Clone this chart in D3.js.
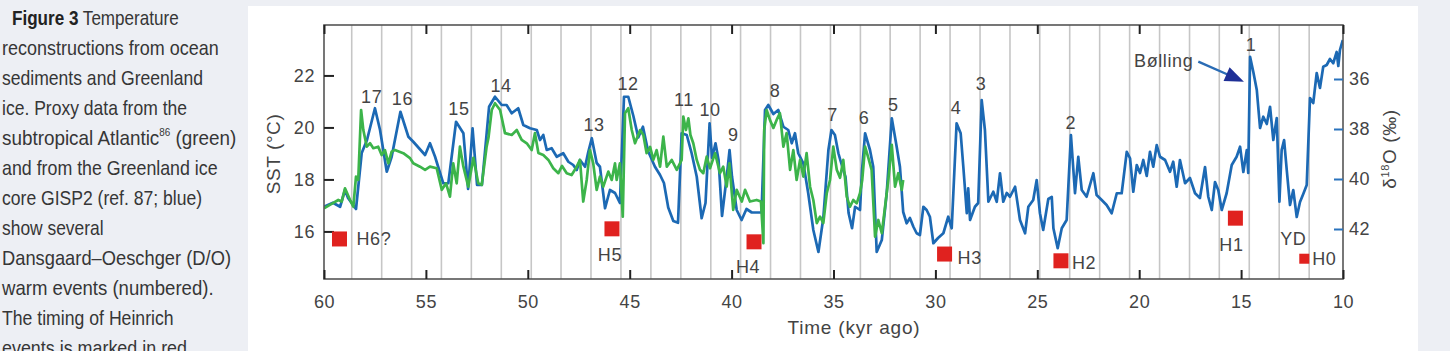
<!DOCTYPE html>
<html><head><meta charset="utf-8">
<script src="https://cdn.jsdelivr.net/npm/d3@7"></script>
<style>
html,body{margin:0;padding:0;background:#edeff4;}
svg{display:block;}
</style></head><body>
<svg id="chart" width="1450" height="351"></svg>
<script>
// ---------------- DATA ----------------
const xTicks = [60,55,50,45,40,35,30,25,20,15,10];
const sstTicks = [16,18,20,22];
const d18OTicks = [36,38,40,42];

// GISP2 delta18O (blue, right axis) [kyr ago, value]
const gispSeries = [[60.00,41.11],[59.56,40.95],[59.21,41.11],[58.97,40.44],[58.82,40.76],[58.43,41.20],[58.15,38.96],[57.89,38.44],[57.50,37.17],[57.25,38.04],[56.92,39.71],[56.68,39.11],[56.25,37.31],[55.86,38.31],[55.62,38.51],[55.04,39.04],[54.80,38.57],[54.55,39.11],[54.15,40.17],[53.90,40.17],[53.52,37.71],[53.16,38.17],[52.93,40.40],[52.71,37.97],[52.49,40.24],[52.25,40.24],[51.90,37.11],[51.61,36.71],[51.28,37.04],[51.04,37.04],[50.79,37.37],[50.47,37.17],[50.22,37.84],[49.89,37.97],[49.56,38.04],[49.40,38.44],[49.24,38.24],[49.07,38.84],[48.83,38.77],[48.58,39.11],[48.26,38.97],[48.01,39.31],[47.77,39.44],[47.60,39.64],[47.44,39.24],[47.19,39.51],[47.03,38.91],[46.86,38.37],[46.62,39.36],[46.46,39.51],[46.21,41.17],[45.97,40.44],[45.72,40.56],[45.48,40.96],[45.28,36.71],[45.07,36.71],[44.82,37.48],[44.58,38.34],[44.35,37.91],[44.10,38.88],[43.76,39.51],[43.51,39.84],[43.32,40.16],[43.11,41.14],[42.86,41.68],[42.63,41.75],[42.45,38.17],[42.20,38.24],[41.96,38.97],[41.71,39.91],[41.47,41.57],[41.28,40.96],[41.08,37.77],[40.96,39.16],[40.79,38.57],[40.64,39.24],[40.47,41.48],[40.23,39.84],[40.10,38.84],[39.98,39.91],[39.75,41.24],[39.51,41.64],[39.27,41.20],[39.01,41.34],[38.53,41.34],[38.36,37.24],[38.20,37.04],[37.95,37.40],[37.71,37.24],[37.46,37.91],[37.22,38.04],[37.05,38.57],[36.89,38.17],[36.73,38.97],[36.48,39.37],[36.24,40.57],[35.99,42.04],[35.74,42.92],[35.50,41.56],[35.25,38.84],[35.10,38.04],[34.93,38.24],[34.76,38.97],[34.57,39.51],[34.41,39.92],[34.26,41.36],[34.09,41.97],[33.94,41.11],[33.70,41.24],[33.60,39.64],[33.45,38.17],[33.21,38.84],[33.05,39.51],[32.88,42.92],[32.63,42.44],[32.39,40.57],[32.14,37.57],[31.90,38.71],[31.74,39.51],[31.58,41.32],[31.41,41.77],[31.25,41.56],[31.08,41.91],[30.92,42.17],[30.76,42.24],[30.59,41.11],[30.43,41.24],[30.27,41.51],[30.10,42.57],[29.87,42.36],[29.61,42.17],[29.37,41.51],[29.20,41.97],[28.96,37.77],[28.76,38.17],[28.63,39.51],[28.46,41.37],[28.39,40.37],[28.30,41.64],[28.06,41.11],[27.90,40.96],[27.73,36.84],[27.57,38.04],[27.40,40.91],[27.16,40.51],[26.99,40.91],[26.83,39.77],[26.67,40.91],[26.50,40.56],[26.34,40.71],[26.09,40.31],[25.85,41.64],[25.60,42.17],[25.44,41.11],[25.20,40.84],[25.03,40.04],[24.87,41.37],[24.71,42.04],[24.46,40.80],[24.29,40.72],[24.21,41.97],[24.00,42.77],[23.80,41.97],[23.56,41.64],[23.35,38.24],[23.15,40.57],[22.99,39.11],[22.82,40.44],[22.58,40.71],[22.25,39.77],[22.09,40.64],[21.84,40.84],[21.60,41.04],[21.35,41.37],[21.10,40.57],[20.86,40.57],[20.61,38.91],[20.45,39.17],[20.29,40.51],[20.12,39.44],[19.96,39.76],[19.80,39.24],[19.63,39.88],[19.47,38.91],[19.31,39.51],[19.14,38.64],[18.98,39.11],[18.73,39.24],[18.49,39.71],[18.33,39.31],[18.16,40.31],[18.00,39.24],[17.75,40.17],[17.51,39.96],[17.26,40.57],[17.02,40.76],[16.77,39.52],[16.61,40.71],[16.44,41.24],[16.28,40.12],[16.12,40.44],[15.95,41.24],[15.71,40.57],[15.46,39.44],[15.22,39.11],[15.05,38.71],[14.89,39.72],[14.72,38.84],[14.65,39.76],[14.56,35.11],[14.40,35.72],[14.23,36.44],[14.07,37.96],[13.91,37.51],[13.74,37.80],[13.58,37.11],[13.42,38.44],[13.25,37.56],[13.12,40.91],[13.01,38.84],[12.89,38.44],[12.76,39.64],[12.60,41.04],[12.44,40.44],[12.27,41.52],[12.11,40.92],[11.95,40.60],[11.78,40.24],[11.62,36.76],[11.46,36.96],[11.29,35.76],[11.13,36.36],[10.97,35.51],[10.80,35.44],[10.64,35.20],[10.48,35.37],[10.31,34.92],[10.23,35.48],[10.15,34.84],[10.01,34.44]];

// Subtropical Atlantic SST (green, left axis) [kyr ago, degC]
const sstSeries = [[60.00,16.89],[59.71,17.02],[59.30,17.21],[59.13,17.15],[58.97,17.66],[58.72,17.21],[58.56,16.95],[58.43,18.11],[58.32,17.98],[58.18,20.67],[58.07,19.90],[57.90,19.26],[57.74,19.39],[57.58,19.20],[57.34,19.26],[57.17,18.94],[57.01,19.13],[56.84,18.62],[56.68,19.07],[56.52,19.13],[56.11,19.01],[55.78,18.82],[55.62,18.62],[55.29,18.49],[55.04,18.37],[54.80,18.49],[54.47,18.43],[54.22,17.60],[54.01,17.85],[53.82,17.34],[53.66,18.62],[53.49,17.85],[53.33,19.26],[53.16,18.49],[52.92,17.72],[52.67,18.83],[52.43,17.85],[52.26,17.79],[52.02,19.26],[51.93,19.60],[51.77,20.67],[51.61,20.93],[51.36,20.67],[51.12,19.78],[50.79,19.71],[50.54,19.90],[50.30,19.52],[50.05,19.39],[49.81,19.13],[49.65,19.78],[49.48,19.02],[49.24,18.94],[48.99,18.75],[48.75,18.43],[48.50,18.24],[48.32,18.52],[48.09,18.24],[47.85,18.17],[47.60,18.49],[47.44,18.75],[47.28,17.15],[47.11,17.98],[46.95,19.13],[46.79,18.62],[46.62,17.60],[46.46,18.11],[46.30,17.72],[46.05,18.30],[45.88,17.98],[45.72,18.62],[45.64,17.98],[45.48,18.62],[45.34,16.57],[45.23,20.55],[45.07,20.74],[44.90,19.90],[44.74,19.39],[44.49,19.90],[44.33,19.71],[44.17,19.01],[44.00,19.25],[43.84,18.75],[43.68,19.13],[43.51,18.49],[43.35,19.65],[43.18,18.49],[42.94,18.75],[42.69,18.37],[42.45,18.75],[42.37,20.42],[42.24,19.90],[42.12,20.35],[42.02,19.71],[41.88,19.39],[41.71,18.75],[41.55,18.37],[41.39,18.24],[41.22,18.88],[41.06,18.43],[40.81,19.01],[40.57,18.24],[40.41,18.49],[40.24,17.72],[40.11,18.62],[39.92,16.83],[39.75,17.60],[39.50,17.15],[39.34,17.60],[39.10,17.15],[38.77,17.21],[38.56,17.15],[38.44,15.55],[38.40,19.90],[38.28,20.67],[38.12,20.29],[37.95,19.98],[37.79,20.29],[37.63,20.55],[37.46,19.26],[37.30,19.78],[37.13,18.37],[36.97,19.13],[36.81,17.98],[36.64,18.75],[36.48,18.11],[36.32,19.01],[36.15,17.72],[35.99,17.21],[35.82,16.32],[35.66,16.57],[35.50,16.32],[35.33,17.47],[35.17,17.98],[35.01,19.26],[34.84,18.37],[34.68,18.06],[34.52,18.75],[34.35,17.34],[34.19,16.95],[34.03,17.21],[33.86,17.08],[33.70,17.47],[33.59,17.98],[33.45,19.26],[33.29,18.83],[33.13,18.37],[32.96,15.80],[32.80,16.44],[32.63,15.93],[32.47,16.95],[32.31,17.98],[32.14,19.33],[31.98,17.72],[31.82,18.24],[31.65,17.60],[31.58,17.98]];

// ~1470-yr pacing lines (kyr ago)
const pacingLines = [58.64,57.17,55.70,54.24,52.77,51.30,49.83,48.37,46.90,45.43,43.96,42.49,41.02,39.56,38.09,36.62,35.15,33.68,32.22,30.75,29.28,27.81,26.34,24.88,23.41,21.94,20.47,19.00,17.53,16.07,14.60,13.13,11.66];

// D/O warm events: label, time, SST level of label
const doLabels = ["17","16","15","14","13","12","11","10","9","8","7","6","5","4","3","2","1"];
const doTimes  = [57.66,56.15,53.38,51.31,46.75,45.08,42.34,41.06,39.92,37.87,35.05,33.50,32.07,28.99,27.76,23.36,14.51];
const doLevels = [21.18,21.12,20.74,21.63,20.10,21.70,21.08,20.70,19.71,21.42,20.48,20.39,20.87,20.78,21.67,20.18,23.17];

// Heinrich events
const heinrichLabels = ["H6?","H5","H4","H3","H2","H1","H0"];
const heinrichTimes  = [59.24,45.87,38.90,29.55,23.84,15.28,11.90];
const heinrichLevels = [15.71,16.10,15.60,15.13,14.87,16.51,14.95];

const captionLines = ["Figure 3 Temperature","reconstructions from ocean","sediments and Greenland","ice. Proxy data from the","subtropical Atlantic86 (green)","and from the Greenland ice","core GISP2 (ref. 87; blue)","show several","Dansgaard\u2013Oeschger (D/O)","warm events (numbered).","The timing of Heinrich","events is marked in red."];

// ---------------- LAYOUT ----------------
const L = 324, R = 1343, T = 25, B = 279;
const FONT = "'Liberation Sans', Arial, Helvetica, sans-serif";
const TXT = "#444";
const BLUE = "#1c69b4", GREEN = "#3cb44a", RED = "#e0221f";

const svg = d3.select("#chart");
svg.append("rect").attr("width",1450).attr("height",351).attr("fill","#edeff4");
svg.append("rect").attr("x",248).attr("y",6).attr("width",1170).attr("height",360).attr("fill","#ffffff");

// caption
const capWidths = [166.7,216.7,201,185,234.3,215.6,200,101.6,229,211.6,171.6,190];
const cap = svg.append("g").attr("font-family","'Liberation Sans Narrow', 'Liberation Sans', Arial, sans-serif")
  .attr("font-size",21).attr("fill","#363636");
captionLines.forEach((line,i)=>{
  const t = cap.append("text").attr("x", i===0 ? 12 : 2).attr("y", 25 + 30*i)
    .attr("textLength", capWidths[i]).attr("lengthAdjust","spacingAndGlyphs");
  if (i===0) {
    t.append("tspan").attr("font-weight","bold").attr("fill","#222").text("Figure 3");
    t.append("tspan").text(" Temperature");
  } else if (line.indexOf("Atlantic86")>=0) {
    t.append("tspan").text("subtropical Atlantic");
    t.append("tspan").attr("font-size",11).attr("dy",-9).text("86");
    t.append("tspan").attr("dy",9).text(" (green)");
  } else {
    t.text(line);
  }
});

const x = d3.scaleLinear().domain([60,10]).range([L,R]);
const yL = d3.scaleLinear().domain([14.17,23.94]).range([B,T]);
const yR = d3.scaleLinear().domain([33.84,44]).range([T,B]);

svg.append("defs").append("clipPath").attr("id","plotclip")
  .append("rect").attr("x",L).attr("y",T).attr("width",R-L).attr("height",B-T);

// pacing lines
svg.append("g").selectAll("line").data(pacingLines).join("line")
  .attr("x1",d=>x(d)).attr("x2",d=>x(d)).attr("y1",T).attr("y2",B)
  .attr("stroke","#c6c6c6").attr("stroke-width",1.6);

const plot = svg.append("g").attr("clip-path","url(#plotclip)");
plot.append("path").datum(gispSeries)
  .attr("d", d3.line().x(d=>x(d[0])).y(d=>yR(d[1])))
  .attr("fill","none").attr("stroke",BLUE).attr("stroke-width",2.7).attr("stroke-linejoin","round");
plot.append("path").datum(sstSeries)
  .attr("d", d3.line().x(d=>x(d[0])).y(d=>yL(d[1])))
  .attr("fill","none").attr("stroke",GREEN).attr("stroke-width",2.7).attr("stroke-linejoin","round");

// frame
svg.append("rect").attr("x",L).attr("y",T).attr("width",R-L).attr("height",B-T)
  .attr("fill","none").attr("stroke","#555").attr("stroke-width",1.6);

// axes
function styleAxis(g, tickColor){
  g.select(".domain").remove();
  g.selectAll(".tick line").attr("stroke",tickColor).attr("stroke-width",2);
  g.selectAll(".tick text").attr("fill",TXT).attr("font-family",FONT).attr("font-size",18).attr("letter-spacing","0.6px");
}
svg.append("g").attr("transform",`translate(0,${B})`)
  .call(d3.axisBottom(x).tickValues(xTicks).tickFormat(d3.format("d")).tickSizeInner(-9).tickSizeOuter(0).tickPadding(16))
  .call(g=>styleAxis(g,"#222"));
svg.append("g").attr("transform",`translate(0,${T})`)
  .call(d3.axisTop(x).tickValues(xTicks).tickFormat("").tickSizeInner(-9).tickSizeOuter(0))
  .call(g=>styleAxis(g,"#222"));
svg.append("g").attr("transform",`translate(${L},0)`)
  .call(d3.axisLeft(yL).tickValues(sstTicks).tickFormat(d3.format("d")).tickSizeInner(-10).tickSizeOuter(0).tickPadding(9))
  .call(g=>styleAxis(g,"#222"));
svg.append("g").attr("transform",`translate(${R},0)`)
  .call(d3.axisRight(yR).tickValues(d18OTicks).tickFormat(d3.format("d")).tickSizeInner(-9).tickSizeOuter(0).tickPadding(6))
  .call(g=>styleAxis(g,"#2a73bd"));

// axis titles
svg.append("text").attr("x",854).attr("y",334).attr("text-anchor","middle")
  .attr("font-family",FONT).attr("font-size",19).attr("letter-spacing","0.8px").attr("fill",TXT).text("Time (kyr ago)");
svg.append("text").attr("transform","translate(273,154) rotate(-90)").attr("text-anchor","middle").attr("dy","0.35em")
  .attr("font-family",FONT).attr("font-size",19).attr("letter-spacing","0.6px").attr("fill",TXT).text("SST (\u00B0C)");
const rt = svg.append("text").attr("transform","translate(1389,149) rotate(-90)").attr("text-anchor","middle").attr("dy","0.35em")
  .attr("font-family",FONT).attr("font-size",19).attr("letter-spacing","0.6px").attr("fill",TXT);
rt.append("tspan").text("\u03B4");
rt.append("tspan").attr("font-size",11).attr("dy",-7).text("18");
rt.append("tspan").attr("dy",7).text("O (\u2030)");

// D/O labels
const lab = svg.append("g").attr("font-family",FONT).attr("font-size",18).attr("letter-spacing","0.6px").attr("fill",TXT);
doLabels.forEach((s,i)=>{
  lab.append("text").attr("x",x(doTimes[i])).attr("y",yL(doLevels[i])).attr("dy","0.36em")
    .attr("text-anchor","middle").text(s);
});

// Heinrich squares + labels
const hSize = [15,15,15,15,15,15,10];
const hLabelPos = [ // [dx, dy, anchor] relative to square centre
  [17,0,"start"],[-2,26,"middle"],[-6,25,"middle"],[13,3,"start"],[11,2,"start"],[-4,26,"middle"],[8,0,"start"]];
heinrichLabels.forEach((s,i)=>{
  const cx = x(heinrichTimes[i]), cy = yL(heinrichLevels[i]), sz = hSize[i];
  svg.append("rect").attr("x",cx-sz/2).attr("y",cy-sz/2).attr("width",sz).attr("height",sz).attr("fill",RED);
  const p = hLabelPos[i];
  lab.append("text").attr("x",cx+p[0]).attr("y",cy+p[1]).attr("dy","0.36em")
    .attr("text-anchor",p[2]).text(s);
});
lab.append("text").attr("x",x(12.44)).attr("y",yL(15.74)).attr("dy","0.36em").attr("text-anchor","middle").text("YD");

// Bølling annotation
lab.append("text").attr("x",x(18.80)).attr("y",yL(22.57)).attr("dy","0.36em").attr("text-anchor","middle").text("B\u00F8lling");
const ax0 = x(17.10), ay0 = yL(22.53), ax1 = x(14.86), ay1 = yL(21.76);
const ang = Math.atan2(ay1-ay0, ax1-ax0), hl = 19, hw = 7.5;
const bx = ax1 - hl*Math.cos(ang), by = ay1 - hl*Math.sin(ang);
svg.append("line").attr("x1",ax0).attr("y1",ay0).attr("x2",bx+3*Math.cos(ang)).attr("y2",by+3*Math.sin(ang))
  .attr("stroke","#2a6cb5").attr("stroke-width",2.4);
svg.append("polygon").attr("points",[
  [ax1,ay1],
  [bx - hw*Math.sin(ang), by + hw*Math.cos(ang)],
  [bx + hw*Math.sin(ang), by - hw*Math.cos(ang)]
].map(p=>p.join(",")).join(" ")).attr("fill","#1e2f96");
</script>
</body></html>
